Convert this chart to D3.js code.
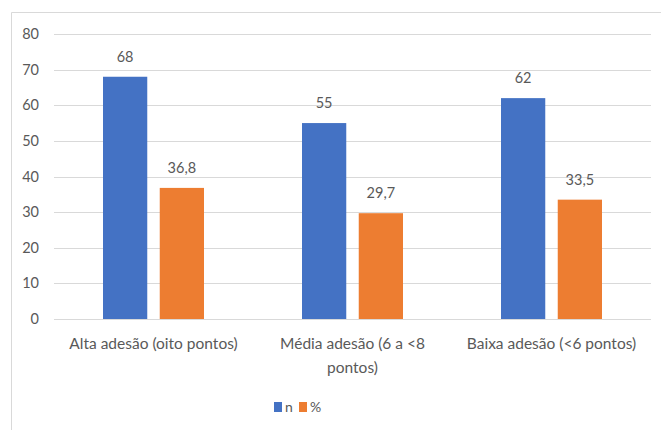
<!DOCTYPE html>
<html>
<head>
<meta charset="utf-8">
<script src="https://cdn.jsdelivr.net/npm/d3@7"></script>
<style>
  body { margin: 0; background: #fff; }
  text { font-family: Lato, "Open Sans", sans-serif; fill: #595959; }
</style>
</head>
<body>
<svg id="chart" width="661" height="430"></svg>
<script>
const categories = ["Alta adesão (oito pontos)", "Média adesão (6 a <8 pontos)", "Baixa adesão (<6 pontos)"];
const seriesNames = ["n", "%"];
const nValues = [68, 55, 62];
const pctValues = [36.8, 29.7, 33.5];
const pctLabels = ["36,8", "29,7", "33,5"];
const yTicks = [0, 10, 20, 30, 40, 50, 60, 70, 80];

const colors = ["#4472c4", "#ed7d31"];

const svg = d3.select("#chart");
const margin = { top: 34, right: 10, bottom: 111, left: 54 };
const width = 651 - margin.left;
const height = 319 - margin.top;

// chart frame
svg.append("path")
  .attr("d", "M11.5,430 V12.5 H661")
  .attr("fill", "none")
  .attr("stroke", "#d9d9d9");

const g = svg.append("g").attr("transform", `translate(${margin.left},${margin.top})`);

const x0 = d3.scaleBand().domain(categories).range([0, width]);
const x1 = d3.scaleBand().domain(seriesNames).range([49, 150]).paddingInner(0.22);
const y = d3.scaleLinear().domain([0, 80]).range([height, 0]);

// gridlines
g.selectAll("line.grid")
  .data(yTicks)
  .join("line")
  .attr("class", "grid")
  .attr("x1", 0)
  .attr("x2", width)
  .attr("y1", (d) => Math.round(y(d)) + 0.5)
  .attr("y2", (d) => Math.round(y(d)) + 0.5)
  .attr("stroke", "#d9d9d9");

// y tick labels
g.selectAll("text.ytick")
  .data(yTicks)
  .join("text")
  .attr("class", "ytick")
  .attr("x", -15)
  .attr("y", (d) => y(d))
  .attr("dy", "0.35em")
  .attr("text-anchor", "end")
  .style("font-size", "14.5px")
  .text((d) => d);

const rows = categories.map((c, i) => ({
  cat: c,
  vals: [
    { s: "n", v: nValues[i], label: String(nValues[i]) },
    { s: "%", v: pctValues[i], label: pctLabels[i] },
  ],
}));

const groups = g.selectAll("g.cat")
  .data(rows)
  .join("g")
  .attr("class", "cat")
  .attr("transform", (d) => `translate(${x0(d.cat)},0)`);

groups.selectAll("rect")
  .data((d) => d.vals)
  .join("rect")
  .attr("x", (d) => x1(d.s))
  .attr("width", x1.bandwidth())
  .attr("y", (d) => y(d.v))
  .attr("height", (d) => y(0) - y(d.v))
  .attr("fill", (d, i) => colors[i]);

groups.selectAll("text.val")
  .data((d) => d.vals)
  .join("text")
  .attr("class", "val")
  .attr("x", (d) => x1(d.s) + x1.bandwidth() / 2)
  .attr("y", (d) => y(d.v) - 15)
  .attr("text-anchor", "middle")
  .style("font-size", "14.5px")
  .text((d) => d.label);

// category labels with wrapping
function wrap(textSel, maxW) {
  textSel.each(function () {
    const text = d3.select(this);
    const words = text.text().split(" ");
    const xPos = text.attr("x");
    text.text(null);
    let line = [];
    let tspan = text.append("tspan").attr("x", xPos).attr("dy", 0);
    words.forEach((w) => {
      line.push(w);
      tspan.text(line.join(" "));
      if (tspan.node().getComputedTextLength() > maxW && line.length > 1) {
        line.pop();
        tspan.text(line.join(" "));
        line = [w];
        tspan = text.append("tspan").attr("x", xPos).attr("dy", "24px").text(w);
      }
    });
  });
}

g.selectAll("text.cat")
  .data(categories)
  .join("text")
  .attr("class", "cat")
  .attr("x", (d) => x0(d) + x0.bandwidth() / 2)
  .attr("y", height + 30)
  .attr("text-anchor", "middle")
  .style("font-size", "15.5px")
  .text((d) => d)
  .call(wrap, 190);

// legend
const legend = svg.append("g").attr("transform", "translate(274,402)");
const items = legend.selectAll("g")
  .data(seriesNames)
  .join("g")
  .attr("transform", (d, i) => `translate(${i * 25},0)`);
items.append("rect")
  .attr("width", 8)
  .attr("height", 10)
  .attr("fill", (d, i) => colors[i]);
items.append("text")
  .attr("x", 11)
  .attr("y", 5)
  .attr("dy", "0.35em")
  .style("font-size", "14px")
  .text((d) => d);
</script>
</body>
</html>
